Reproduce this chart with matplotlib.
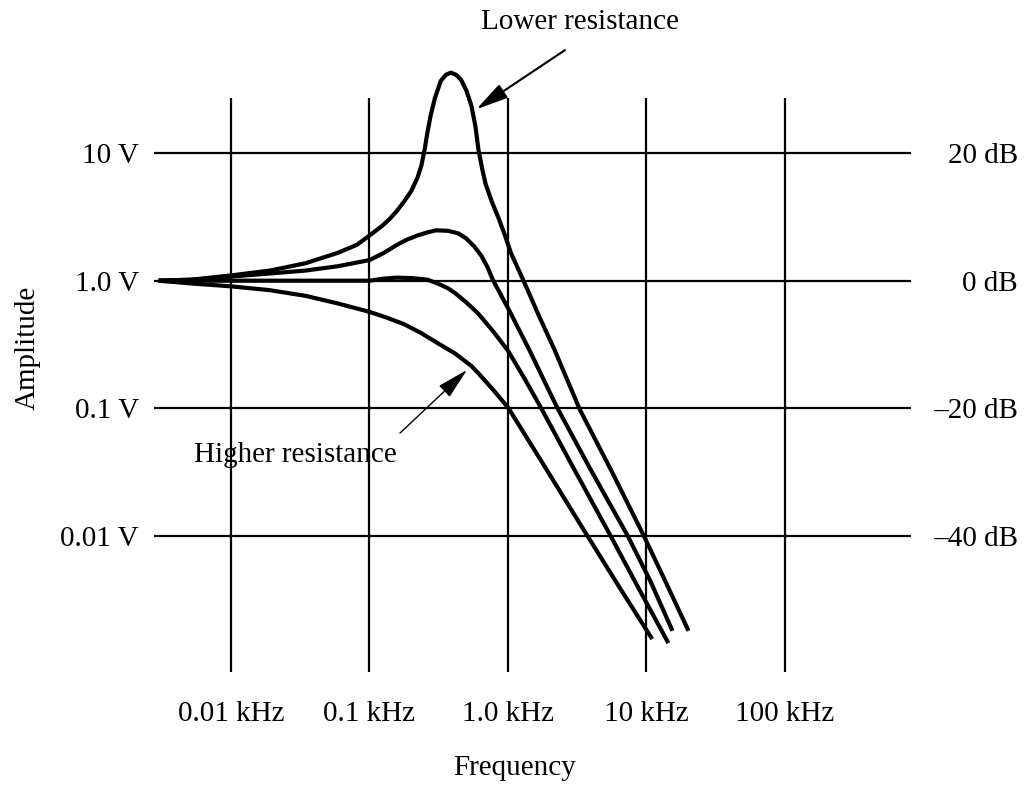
import matplotlib
matplotlib.use("Agg")
import matplotlib.pyplot as plt

plt.rcParams["font.family"] = ["Liberation Serif", "DejaVu Serif"]

# Frequency (kHz) and amplitude (V) of the four response curves,
# from lowest resistance (sharp resonance) to highest resistance (no peak).
freq_a = [0.003, 0.00525, 0.01, 0.01905, 0.0345, 0.0588, 0.0811, 0.1, 0.1225,
          0.140, 0.158, 0.178, 0.200, 0.222, 0.237, 0.250, 0.262, 0.276, 0.296,
          0.327, 0.356, 0.387, 0.422, 0.459, 0.500, 0.544, 0.582, 0.612, 0.655,
          0.689, 0.763, 0.859, 0.951, 1.05, 1.35, 1.683, 2.166, 3.30, 5.65,
          9.5, 13.7, 20.1]
amp_a = [1.0, 1.019, 1.10, 1.20, 1.37, 1.65, 1.91, 2.26, 2.67,
         3.05, 3.53, 4.18, 5.03, 6.4, 8.0, 10.6, 14.5, 19.5, 26.7,
         36.7, 41.0, 42.6, 41.0, 37.4, 31.0, 23.5, 16.2, 10.6, 7.3,
         5.73, 4.18, 3.05, 2.26, 1.65, 0.903, 0.523, 0.288, 0.098, 0.0316,
         0.0102, 0.00441, 0.00181]

freq_b = [0.003, 0.00525, 0.01, 0.01905, 0.0345, 0.0588, 0.1, 0.1268, 0.158,
          0.187, 0.222, 0.262, 0.301, 0.368, 0.437, 0.500, 0.572, 0.644, 0.713,
          0.776, 1.017, 1.423, 2.28, 3.90, 7.26, 10.7, 15.4]
amp_b = [1.0, 1.019, 1.077, 1.139, 1.20, 1.297, 1.45, 1.65, 1.91,
         2.10, 2.26, 2.39, 2.48, 2.46, 2.35, 2.14, 1.85, 1.56, 1.27,
         1.02, 0.589, 0.288, 0.1, 0.034, 0.0102, 0.00441, 0.00181]

freq_c = [0.003, 0.01, 0.0345, 0.0588, 0.1, 0.1268, 0.158, 0.204, 0.262,
          0.311, 0.368, 0.415, 0.500, 0.612, 0.776, 1.0, 1.309, 1.74, 3.03,
          5.46, 9.04, 14.4]
amp_c = [1.0, 1.0, 1.0, 1.0, 1.0, 1.038, 1.057, 1.047, 1.019,
         0.950, 0.873, 0.80, 0.676, 0.55, 0.405, 0.283, 0.173, 0.1, 0.0328,
         0.0102, 0.00367, 0.00145]

freq_d = [0.003, 0.00525, 0.01, 0.01905, 0.0345, 0.0588, 0.1, 0.133, 0.178,
          0.233, 0.311, 0.415, 0.544, 0.612, 0.776, 1.0, 1.683, 3.71, 6.46,
          11.0]
amp_d = [1.0, 0.950, 0.903, 0.843, 0.761, 0.664, 0.570, 0.514, 0.456,
         0.392, 0.324, 0.269, 0.215, 0.188, 0.141, 0.1017, 0.041, 0.0102,
         0.00388, 0.00156]

freq_ticks = [0.01, 0.1, 1.0, 10, 100]
freq_labels = ["0.01 kHz", "0.1 kHz", "1.0 kHz", "10 kHz", "100 kHz"]
amp_ticks = [10, 1.0, 0.1, 0.01]
amp_labels = ["10 V", "1.0 V", "0.1 V", "0.01 V"]
db_labels = ["20 dB", "0 dB", "\u201320 dB", "\u201340 dB"]

FS = 21
W, H = 1030, 786
fig = plt.figure(figsize=(W / 100, H / 100), dpi=100)
ax = fig.add_axes([154 / W, 1 - 672 / H, 757 / W, 574 / H])

ax.set_xscale("log")
ax.set_yscale("log")
ax.set_xlim(10 ** -2.556, 10 ** 2.91)
ax.set_ylim(10 ** -3.065, 10 ** 1.431)

for f, a in [(freq_a, amp_a), (freq_b, amp_b), (freq_c, amp_c), (freq_d, amp_d)]:
    ax.plot(f, a, color="black", lw=3.0, solid_joinstyle="round",
            solid_capstyle="butt", zorder=3, clip_on=False)

ax.minorticks_off()
ax.set_xticks(freq_ticks)
ax.set_xticklabels(freq_labels)
ax.set_yticks(amp_ticks)
ax.set_yticklabels(amp_labels)
ax.tick_params(axis="both", length=0, labelsize=FS)
ax.tick_params(axis="x", pad=21)
ax.tick_params(axis="y", pad=11)
ax.grid(True, which="major", color="black", lw=1.6)
for s in ax.spines.values():
    s.set_visible(False)

ax2 = ax.twinx()
ax2.set_yscale("log")
ax2.set_ylim(ax.get_ylim())
ax2.minorticks_off()
ax2.set_yticks(amp_ticks)
ax2.set_yticklabels(db_labels)
ax2.tick_params(axis="y", length=0, labelsize=FS, pad=77)
for lab in ax2.get_yticklabels():
    lab.set_horizontalalignment("right")
for s in ax2.spines.values():
    s.set_visible(False)

fig.text(28 / W, 1 - 348 / H, "Amplitude", rotation=90, ha="center",
         va="center", fontsize=FS)
fig.text(515 / W, 1 - 768 / H, "Frequency", ha="center", va="center",
         fontsize=FS)

arrow_style = "-|>,head_length=0.9,head_width=0.22"
ax.annotate("", xy=(0.59, 22), xytext=(2.58, 64),
            arrowprops=dict(arrowstyle=arrow_style, lw=1.5, color="black",
                            mutation_scale=22, shrinkA=0, shrinkB=0),
            annotation_clip=False)
ax.text(3.31, 106, "Lower resistance", ha="center", va="center",
        fontsize=FS, clip_on=False)
ax.annotate("", xy=(0.506, 0.2), xytext=(0.166, 0.064),
            arrowprops=dict(arrowstyle=arrow_style, lw=1.0, color="black",
                            mutation_scale=22, shrinkA=0, shrinkB=0),
            annotation_clip=False)
ax.text(0.029, 0.0431, "Higher resistance", ha="center", va="center",
        fontsize=FS, clip_on=False)

fig.savefig("out.png", dpi=100, facecolor="white")
